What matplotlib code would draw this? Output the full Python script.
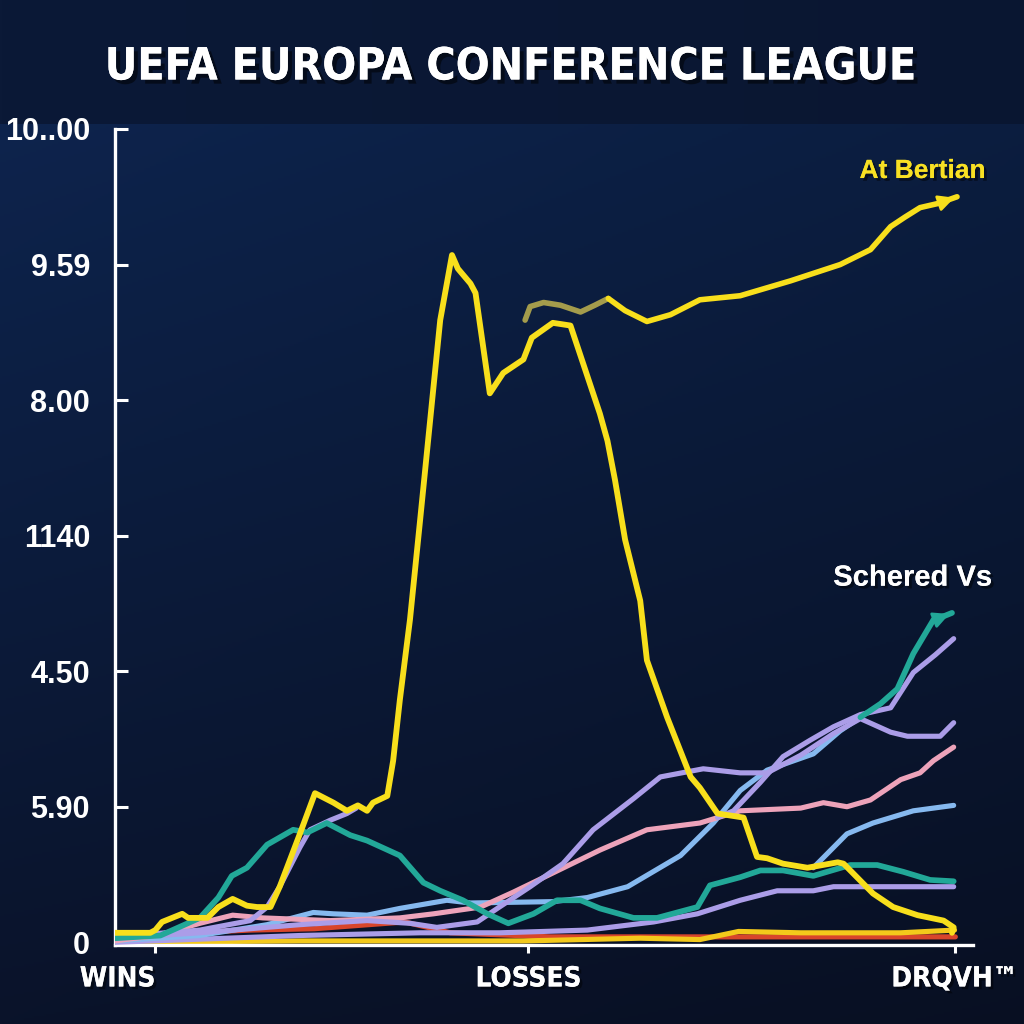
import numpy as np
import matplotlib
matplotlib.use("Agg")
import matplotlib.pyplot as plt
import matplotlib.patheffects as pe
from matplotlib import font_manager

# Pick a condensed bold face for the title and x labels if one is installed
narrow = None
for f in font_manager.fontManager.ttflist:
    if ("Narrow" in f.name or "Condensed" in f.name or f.stretch in ("condensed", "semi-condensed")) \
            and f.weight in ("bold", 700, 600, "semibold", "demibold"):
        narrow = f.fname
        break
if narrow is None:
    narrow_prop = font_manager.FontProperties(family="Liberation Sans", weight="bold")
    condensed = False
else:
    narrow_prop = font_manager.FontProperties(fname=narrow)
    condensed = True

# Data
yellow_x = [0, 4.2, 4.8, 5.6, 8.0, 8.7, 10.1, 11.0, 12.3, 14.0, 15.7, 16.9, 18.5, 19.6, 22.0,
            23.8, 26.0, 27.6, 28.9, 30.0, 30.7, 32.4, 33.1, 33.9, 35.1, 36.3, 37.5, 38.7, 40.1,
            40.8, 42.3, 42.9, 44.6, 46.2, 48.6, 49.6, 52.1, 54.2, 57.7, 58.6, 59.5, 60.7, 62.5,
            63.3, 65.7, 68.5, 69.6, 71.7, 74.8, 76.4, 77.6, 79.5, 82.4, 86.0, 86.7, 90.2, 92.6,
            95.5, 98.6, 99.8, 99.6]
yellow_y = [0.07, 0.07, 0.09, 0.15, 0.21, 0.18, 0.18, 0.18, 0.26, 0.32, 0.27, 0.26, 0.26, 0.41,
            0.80, 1.10, 1.03, 0.97, 1.01, 0.97, 1.03, 1.08, 1.34, 1.79, 2.38, 3.11, 3.85, 4.59,
            5.07, 4.97, 4.86, 4.79, 4.05, 4.20, 4.30, 4.46, 4.57, 4.55, 3.90, 3.70, 3.41, 2.97,
            2.52, 2.08, 1.66, 1.22, 1.14, 0.95, 0.92, 0.63, 0.62, 0.58, 0.55, 0.59, 0.58, 0.36,
            0.26, 0.20, 0.16, 0.11, 0.07]

olive_x = [48.8, 49.4, 51.0, 53.0, 55.4, 57.1, 58.7]
olive_y = [4.59, 4.69, 4.72, 4.70, 4.65, 4.70, 4.75]

bertian_x = [58.7, 60.7, 63.3, 66.1, 69.6, 74.4, 80.4, 86.3, 89.9, 92.3, 94.0, 95.8, 97.9, 100.2]
bertian_y = [4.75, 4.66, 4.58, 4.63, 4.74, 4.77, 4.88, 5.00, 5.11, 5.28, 5.35, 5.42, 5.45, 5.50]

teal_x = [0, 5.4, 10.1, 12.3, 13.9, 15.7, 18.1, 21.2, 22.9, 25.2, 28.0, 30.0, 33.9, 36.7, 38.7,
          41.4, 44.3, 46.8, 49.8, 52.6, 55.4, 57.7, 61.7, 64.5, 69.3, 70.8, 74.4, 76.8, 79.5,
          83.1, 87.5, 90.7, 93.8, 97.0, 99.8]
teal_y = [0.03, 0.05, 0.18, 0.33, 0.49, 0.55, 0.72, 0.83, 0.81, 0.88, 0.79, 0.75, 0.64, 0.44,
          0.38, 0.31, 0.21, 0.14, 0.21, 0.31, 0.31, 0.25, 0.18, 0.18, 0.26, 0.42, 0.48, 0.53,
          0.53, 0.49, 0.57, 0.57, 0.52, 0.46, 0.45]

sky_x = [0, 10.1, 18.1, 23.6, 26.0, 30.0, 33.9, 39.5, 42.3, 52.1, 56.2, 61.0, 67.3, 71.2, 74.4,
         77.6, 83.1, 86.3, 88.7]
sky_y = [0.01, 0.05, 0.13, 0.22, 0.21, 0.20, 0.25, 0.31, 0.29, 0.30, 0.33, 0.41, 0.64, 0.88,
         1.12, 1.27, 1.39, 1.56, 1.66]

schered_x = [88.7, 91.1, 93.1, 95.0, 97.4, 98.8, 99.6]
schered_y = [1.66, 1.76, 1.87, 2.13, 2.38, 2.41, 2.43]

sky2_x = [83.1, 87.1, 90.2, 95.0, 99.8]
sky2_y = [0.55, 0.80, 0.88, 0.97, 1.01]

pink_x = [0, 5.0, 10.1, 14.0, 17.6, 25.6, 33.9, 37.9, 43.5, 47.4, 51.4, 57.7, 63.3, 69.6, 74.4,
          81.6, 84.3, 87.1, 89.9, 93.5, 95.8, 97.4, 99.8]
pink_y = [0.01, 0.05, 0.14, 0.20, 0.18, 0.16, 0.18, 0.21, 0.26, 0.37, 0.49, 0.68, 0.83, 0.88,
          0.97, 0.99, 1.03, 1.00, 1.05, 1.20, 1.25, 1.34, 1.44]

lav_mid_x = [0, 10.1, 22.0, 30.0, 35.1, 38.3, 43.1, 45.5, 49.4, 53.3, 56.9, 61.7, 64.9, 70.0,
             74.4, 77.6, 81.6, 85.5, 88.7, 92.3, 94.3, 98.2, 99.8]
lav_mid_y = [0.03, 0.07, 0.13, 0.16, 0.14, 0.11, 0.15, 0.25, 0.41, 0.58, 0.83, 1.06, 1.22, 1.28,
             1.25, 1.25, 1.38, 1.54, 1.65, 1.55, 1.52, 1.52, 1.62]

lav_hump_x = [0, 10.1, 16.1, 18.1, 19.6, 22.0, 23.2, 25.6, 27.6, 28.7]
lav_hump_y = [0.04, 0.09, 0.16, 0.26, 0.41, 0.70, 0.83, 0.90, 0.95, 0.99]

lav_top_x = [71.7, 73.6, 76.8, 79.5, 82.7, 85.5, 88.7, 92.3, 95.0, 97.6, 99.8]
lav_top_y = [0.92, 0.97, 1.18, 1.37, 1.49, 1.59, 1.68, 1.73, 1.99, 2.12, 2.24]

lav_low_x = [0, 22.0, 36.3, 45.8, 56.2, 64.1, 69.3, 74.4, 78.8, 83.1, 85.5, 99.8]
lav_low_y = [0.0, 0.05, 0.07, 0.07, 0.09, 0.15, 0.21, 0.31, 0.38, 0.38, 0.41, 0.41]

red_x = [0, 5.7, 8.9, 16.1, 23.7, 34.5, 39.9, 51.8, 69.6, 100.0]
red_y = [0.01, 0.01, 0.07, 0.09, 0.10, 0.15, 0.07, 0.04, 0.04, 0.04]

ybot_x = [0, 22.0, 48.6, 62.5, 69.6, 74.2, 81.6, 93.5, 99.9]
ybot_y = [0.0, 0.01, 0.01, 0.03, 0.02, 0.08, 0.07, 0.07, 0.09]

ytick_vals = [0, 1, 2, 3, 4, 5, 6]
ytick_labels = ["0", "5.90", "4.50", "1140", "8.00", "9.59", "10..00"]
xtick_vals = [4.8, 49.2, 99.9]
xtick_labels = ["WINS", "LOSSES", "DRQVH™"]

YELLOW = "#f8df1c"
TEAL = "#22a898"
SKY = "#86b9ef"
PINK = "#eda3ba"
LAV = "#ab9de8"
RED = "#d8452b"

fig = plt.figure(figsize=(10.24, 10.24), dpi=100)

# background: header band plus a navy gradient behind the plot
bg = fig.add_axes([0, 0, 1, 1], zorder=-10)
h, w = 512, 512
rows = np.linspace(0, 1, h)[:, None]
cols = np.linspace(0, 1, w)[None, :]
top = np.array([14, 38, 82]) / 255
bot = np.array([10, 19, 42]) / 255
img = top * (1 - rows[..., None]) + bot * rows[..., None]
img = img * (1 - 0.18 * cols[..., None])
head = np.array([11, 25, 55]) / 255
header_rows = int(h * 125 / 1024)
img[:header_rows] = head * (1 - 0.1 * cols[..., None][:1])
bg.imshow(img, aspect="auto", extent=[0, 1, 0, 1])
bg.axis("off")

ax = fig.add_axes([115 / 1024, 79 / 1024, 858 / 1024, 816 / 1024])
ax.set_facecolor("none")

lw = 3.7
style = dict(solid_capstyle="round", solid_joinstyle="round")
ax.plot(red_x, red_y, color=RED, lw=lw, zorder=2, **style)
ax.plot(ybot_x, ybot_y, color="#f3c91b", lw=lw, zorder=2.5, **style)
ax.plot(lav_low_x, lav_low_y, color=LAV, lw=lw, zorder=3, **style)
ax.plot(sky_x, sky_y, color=SKY, lw=lw, zorder=3, **style)
ax.plot(sky2_x, sky2_y, color=SKY, lw=lw, zorder=3, **style)
ax.plot(pink_x, pink_y, color=PINK, lw=lw, zorder=3.2, **style)
ax.plot(lav_mid_x, lav_mid_y, color=LAV, lw=lw, zorder=3.4, **style)
ax.plot(lav_top_x, lav_top_y, color=LAV, lw=lw, zorder=3.4, **style)
ax.plot(lav_hump_x, lav_hump_y, color=LAV, lw=lw, zorder=3.4, **style)
ax.plot(teal_x, teal_y, color=TEAL, lw=lw + 0.4, zorder=3.6, **style)
ax.plot(schered_x, schered_y, color=TEAL, lw=lw + 0.4, zorder=3.6, **style)
ax.plot(yellow_x, yellow_y, color=YELLOW, lw=lw + 0.5, zorder=5, **style)
ax.plot(olive_x, olive_y, color="#a49c4c", lw=lw + 0.3, zorder=4, **style)
ax.plot(bertian_x, bertian_y, color=YELLOW, lw=lw + 0.3, zorder=4, **style)

# arrow heads at the ends of the two labelled lines
for xs, ys, col in [(bertian_x, bertian_y, YELLOW), (schered_x, schered_y, TEAL)]:
    ax.annotate("", xy=(xs[-1], ys[-1]), xytext=(xs[-2], ys[-2]),
                arrowprops=dict(arrowstyle="-|>", color=col, lw=2, mutation_scale=24),
                zorder=6, annotation_clip=False)

shadow = [pe.withSimplePatchShadow(offset=(2, -2), shadow_rgbFace="black", alpha=0.45), pe.Normal()]
ax.text(96.1, 5.69, "At Bertian", color="#f8e023", fontsize=19, fontweight="bold",
        family="Liberation Sans", ha="center", va="center", path_effects=shadow)
ax.text(94.9, 2.69, "Schered Vs", color="white", fontsize=21, fontweight="bold",
        family="Liberation Sans", ha="center", va="center", path_effects=shadow)

ax.set_xlim(0, 102.1)
ax.set_ylim(-0.02, 6.0)

for side in ["top", "right"]:
    ax.spines[side].set_visible(False)
for side in ["left", "bottom"]:
    ax.spines[side].set_color("white")
    ax.spines[side].set_linewidth(2.4)

ax.set_yticks(ytick_vals)
ax.set_yticklabels(ytick_labels)
ax.tick_params(axis="y", direction="in", length=9, width=2.2, color="white",
               labelcolor="white", labelsize=22, pad=18)
for lab in ax.get_yticklabels():
    lab.set_fontweight("bold")
    lab.set_family("Liberation Sans")

ax.set_xticks(xtick_vals)
ax.set_xticklabels(xtick_labels)
ax.tick_params(axis="x", direction="out", length=6, width=2.2, color="white",
               labelcolor="white", pad=8)
xsize = 20 if condensed else 18
for lab in ax.get_xticklabels():
    lab.set_fontproperties(narrow_prop)
    lab.set_fontsize(xsize)
    lab.set_path_effects(shadow)
ax.get_xticklabels()[0].set_horizontalalignment("right")

title_prop = narrow_prop.copy()
title_prop.set_size(32 if condensed else 29)
fig.text(0.498, 1 - 67 / 1024, "UEFA EUROPA CONFERENCE LEAGUE", color="white",
         fontproperties=title_prop, ha="center", va="center",
         path_effects=[pe.withSimplePatchShadow(offset=(3, -3), shadow_rgbFace="black", alpha=0.5),
                       pe.Normal()])

fig.savefig("out.png", dpi=100)
